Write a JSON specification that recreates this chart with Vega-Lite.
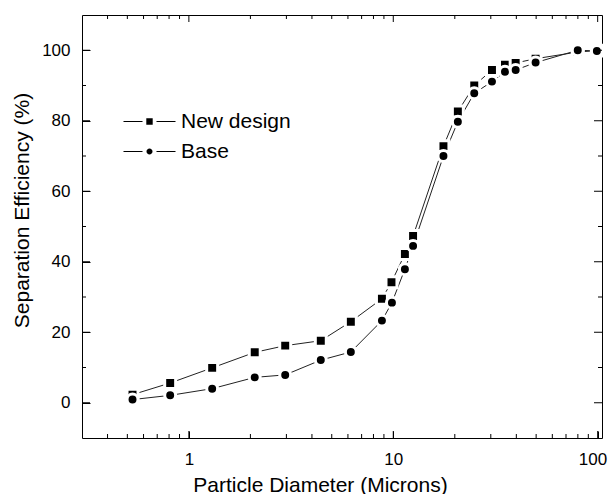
{
  "$schema": "https://vega.github.io/schema/vega-lite/v6.json",
  "width": 520,
  "height": 423,
  "autosize": "none",
  "padding": {"left": 82, "top": 15, "right": 7, "bottom": 56},
  "background": "white",
  "config": {
    "view": {"stroke": "black", "strokeWidth": 1},
    "font": "Liberation Sans"
  },
  "data": {
    "values": [
      {"d": 0.53, "e": 2.3, "series": "New design"},
      {"d": 0.81, "e": 5.6, "series": "New design"},
      {"d": 1.3, "e": 9.9, "series": "New design"},
      {"d": 2.1, "e": 14.3, "series": "New design"},
      {"d": 2.96, "e": 16.2, "series": "New design"},
      {"d": 4.42, "e": 17.6, "series": "New design"},
      {"d": 6.2, "e": 23.0, "series": "New design"},
      {"d": 8.8, "e": 29.5, "series": "New design"},
      {"d": 9.8, "e": 34.2, "series": "New design"},
      {"d": 11.4, "e": 42.2, "series": "New design"},
      {"d": 12.5, "e": 47.3, "series": "New design"},
      {"d": 17.6, "e": 72.8, "series": "New design"},
      {"d": 20.7, "e": 82.6, "series": "New design"},
      {"d": 24.9, "e": 90.0, "series": "New design"},
      {"d": 30.4, "e": 94.4, "series": "New design"},
      {"d": 35.2, "e": 95.9, "series": "New design"},
      {"d": 39.7, "e": 96.4, "series": "New design"},
      {"d": 49.7, "e": 97.6, "series": "New design"},
      {"d": 79.9, "e": 99.5, "series": "New design"},
      {"d": 99.1, "e": 99.9, "series": "New design"},
      {"d": 0.53, "e": 0.9, "series": "Base"},
      {"d": 0.81, "e": 2.1, "series": "Base"},
      {"d": 1.3, "e": 4.0, "series": "Base"},
      {"d": 2.1, "e": 7.2, "series": "Base"},
      {"d": 2.96, "e": 7.9, "series": "Base"},
      {"d": 4.42, "e": 12.1, "series": "Base"},
      {"d": 6.2, "e": 14.4, "series": "Base"},
      {"d": 8.8, "e": 23.3, "series": "Base"},
      {"d": 9.85, "e": 28.4, "series": "Base"},
      {"d": 11.4, "e": 37.9, "series": "Base"},
      {"d": 12.5, "e": 44.5, "series": "Base"},
      {"d": 17.6, "e": 70.0, "series": "Base"},
      {"d": 20.7, "e": 79.7, "series": "Base"},
      {"d": 24.9, "e": 87.8, "series": "Base"},
      {"d": 30.4, "e": 91.1, "series": "Base"},
      {"d": 35.2, "e": 93.9, "series": "Base"},
      {"d": 39.7, "e": 94.4, "series": "Base"},
      {"d": 49.7, "e": 96.5, "series": "Base"},
      {"d": 79.9, "e": 100.0, "series": "Base"},
      {"d": 99.1, "e": 99.8, "series": "Base"}
    ]
  },
  "datasets": {
    "xticks": [
      {"t": 0.4}, {"t": 0.5}, {"t": 0.6}, {"t": 0.7}, {"t": 0.8}, {"t": 0.9}, {"t": 1},
      {"t": 2}, {"t": 3}, {"t": 4}, {"t": 5}, {"t": 6}, {"t": 7}, {"t": 8}, {"t": 9}, {"t": 10},
      {"t": 20}, {"t": 30}, {"t": 40}, {"t": 50}, {"t": 60}, {"t": 70}, {"t": 80}, {"t": 90}, {"t": 100}
    ],
    "yticks": [
      {"v": 0}, {"v": 10}, {"v": 20}, {"v": 30}, {"v": 40}, {"v": 50},
      {"v": 60}, {"v": 70}, {"v": 80}, {"v": 90}, {"v": 100}
    ]
  },
  "layer": [
    {
      "mark": {"type": "line", "stroke": "#222222", "strokeWidth": 1},
      "encoding": {
        "x": {
          "field": "d", "type": "quantitative",
          "scale": {"type": "log", "domain": [0.3, 105], "nice": false},
          "axis": {
            "orient": "bottom", "values": [1, 10, 100], "offset": -7,
            "domainColor": "transparent", "grid": false,
            "tickSize": 7, "tickColor": "black", "tickWidth": 1,
            "format": "~g", "labelFontSize": 17, "labelColor": "black", "labelPadding": 13,
            "labelOverlap": false, "labelFlush": 10, "labelFlushOffset": 9,
            "title": "Particle Diameter (Microns)", "titleFontSize": 21, "titleFontWeight": "normal", "titleColor": "black",
            "titleX": 238, "titleY": 60, "titleBaseline": "alphabetic", "titleAlign": "center"
          }
        },
        "y": {
          "field": "e", "type": "quantitative",
          "scale": {"domain": [-10, 110], "nice": false, "zero": false},
          "axis": {
            "orient": "left", "values": [0, 20, 40, 60, 80, 100], "offset": -8,
            "domainColor": "transparent", "grid": false,
            "tickSize": 8, "tickColor": "black", "tickWidth": 1,
            "labelFontSize": 17, "labelColor": "black", "labelPadding": 12, "labelOverlap": false, "labelFlush": false,
            "title": "Separation Efficiency (%)", "titleFontSize": 21, "titleFontWeight": "normal", "titleColor": "black",
            "titleX": -68, "titleY": 195, "titleAngle": -90, "titleAlign": "center", "titleBaseline": "middle"
          }
        },
        "detail": {"field": "series", "type": "nominal"}
      }
    },
    {
      "mark": {"type": "point", "filled": true, "fill": "black", "stroke": "white", "strokeWidth": 3, "opacity": 1, "size": 120},
      "encoding": {
        "x": {"field": "d", "type": "quantitative", "axis": null},
        "y": {"field": "e", "type": "quantitative", "axis": null},
        "shape": {
          "field": "series", "type": "nominal",
          "scale": {"domain": ["New design", "Base"], "range": ["square", "circle"]},
          "legend": null
        }
      }
    },
    {
      "transform": [{"filter": "false"}],
      "mark": {"type": "point", "filled": true, "color": "black"},
      "encoding": {
        "shape": {
          "field": "series", "type": "nominal",
          "scale": {
            "domain": ["New design", "Base"],
            "range": [
              "M-2.6,-0.05H-0.7V0.05H-2.6ZM0.7,-0.05H2.6V0.05H0.7ZM-0.32,-0.32H0.32V0.32H-0.32Z",
              "M-2.6,-0.05H-0.7V0.05H-2.6ZM0.7,-0.05H2.6V0.05H0.7ZM0.3,0A0.3,0.3 0 1,1 -0.3,0A0.3,0.3 0 1,1 0.3,0Z"
            ]
          },
          "legend": {
            "orient": "none", "legendX": 57, "legendY": 96,
            "title": null, "padding": 0,
            "symbolSize": 400, "symbolFillColor": "black",
            "symbolStrokeWidth": 0, "symbolOpacity": 1,
            "labelFontSize": 21, "labelFont": "Liberation Sans", "labelColor": "black",
            "labelOffset": 21, "rowPadding": 8
          }
        }
      }
    },
    {
      "data": {"name": "xticks"},
      "mark": {"type": "tick", "orient": "vertical", "thickness": 1, "color": "black", "opacity": 1, "clip": true},
      "encoding": {
        "x": {"field": "t", "type": "quantitative", "axis": null},
        "y": {"datum": -10, "type": "quantitative", "axis": null},
        "size": {"condition": {"test": "datum.t == 1 || datum.t == 10 || datum.t == 100", "value": 14}, "value": 8}
      }
    },
    {
      "data": {"name": "xticks"},
      "mark": {"type": "tick", "orient": "vertical", "thickness": 1, "color": "black", "opacity": 1, "clip": true},
      "encoding": {
        "x": {"field": "t", "type": "quantitative", "axis": null},
        "y": {"datum": 110, "type": "quantitative", "axis": null},
        "size": {"condition": {"test": "datum.t == 1 || datum.t == 10 || datum.t == 100", "value": 14}, "value": 8}
      }
    },
    {
      "data": {"name": "yticks"},
      "mark": {"type": "tick", "orient": "horizontal", "thickness": 1, "color": "black", "opacity": 1, "clip": true},
      "encoding": {
        "y": {"field": "v", "type": "quantitative", "axis": null},
        "x": {"datum": 0.3, "type": "quantitative", "axis": null},
        "size": {"condition": {"test": "datum.v % 20 == 0", "value": 16}, "value": 8}
      }
    },
    {
      "data": {"name": "yticks"},
      "mark": {"type": "tick", "orient": "horizontal", "thickness": 1, "color": "black", "opacity": 1, "clip": true},
      "encoding": {
        "y": {"field": "v", "type": "quantitative", "axis": null},
        "x": {"datum": 105, "type": "quantitative", "axis": null},
        "size": {"condition": {"test": "datum.v % 20 == 0", "value": 16}, "value": 8}
      }
    }
  ],
  "resolve": {
    "axis": {"x": "independent", "y": "independent"},
    "scale": {"shape": "independent"}
  }
}
